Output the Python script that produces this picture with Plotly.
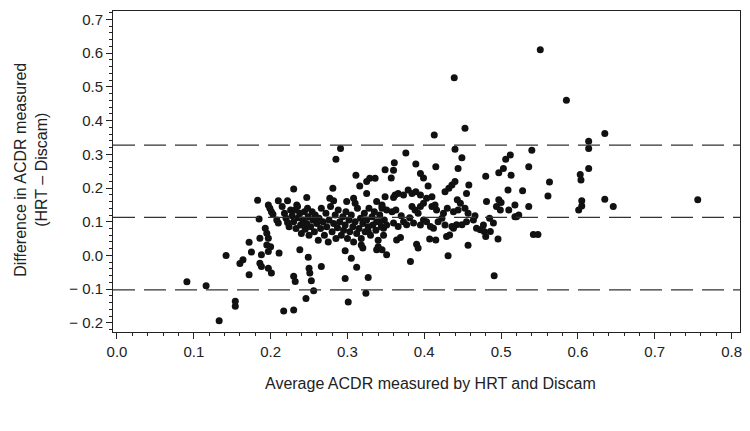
import plotly.graph_objects as go

# Average ACDR (x) and difference HRT - Discam (y)
avg_acdr = [
    0.091, 0.116, 0.133, 0.142, 0.154, 0.154, 0.160, 0.164, 0.172, 0.175, 0.172,
    0.183, 0.197, 0.199, 0.201, 0.203, 0.185, 0.210, 0.208, 0.210, 0.193, 0.195,
    0.186, 0.197, 0.195, 0.200, 0.197, 0.188, 0.186, 0.188, 0.197, 0.201, 0.211,
    0.222, 0.230, 0.247, 0.234, 0.277, 0.282, 0.281, 0.291, 0.285, 0.299, 0.308,
    0.310, 0.311, 0.316, 0.325, 0.329, 0.336, 0.325, 0.338, 0.349, 0.349, 0.345,
    0.238, 0.249, 0.250, 0.251, 0.266, 0.230, 0.232, 0.253, 0.256, 0.246, 0.217,
    0.230, 0.297, 0.301, 0.297, 0.305, 0.312, 0.327, 0.324, 0.318, 0.320, 0.327,
    0.338, 0.340, 0.351,
    0.215, 0.218, 0.220, 0.222, 0.224, 0.226, 0.228, 0.230, 0.232, 0.233, 0.235,
    0.236, 0.238, 0.239, 0.240, 0.242, 0.244, 0.245, 0.247, 0.248, 0.249, 0.250,
    0.252, 0.254, 0.255, 0.257, 0.258, 0.260, 0.262, 0.263, 0.265, 0.266, 0.268,
    0.270, 0.272, 0.273, 0.275, 0.276, 0.278, 0.280, 0.282, 0.284, 0.285, 0.287,
    0.288, 0.290, 0.292, 0.294, 0.295, 0.297, 0.298, 0.300, 0.302, 0.303, 0.305,
    0.307, 0.308, 0.310, 0.312, 0.313, 0.315, 0.317, 0.318, 0.320, 0.322, 0.323,
    0.325, 0.327, 0.328, 0.330, 0.332, 0.333, 0.335, 0.337, 0.338, 0.340, 0.342,
    0.344, 0.345, 0.347, 0.348,
    0.361, 0.360, 0.357, 0.376, 0.389, 0.395, 0.399, 0.413, 0.415, 0.439, 0.453,
    0.440, 0.449, 0.444, 0.458, 0.455, 0.440, 0.436, 0.432, 0.427, 0.405, 0.410,
    0.480, 0.497, 0.503, 0.506, 0.512, 0.513, 0.481, 0.497, 0.494, 0.499, 0.509,
    0.510, 0.518, 0.457, 0.431, 0.382, 0.491, 0.390, 0.392, 0.364, 0.369, 0.407,
    0.415, 0.429, 0.433, 0.496, 0.480, 0.478, 0.473, 0.468, 0.490, 0.486, 0.345,
    0.520, 0.438, 0.442, 0.449, 0.412, 0.418, 0.423, 0.373, 0.377, 0.386, 0.399,
    0.403, 0.345, 0.351, 0.358, 0.363, 0.360, 0.362, 0.366, 0.373, 0.379, 0.384,
    0.389, 0.395, 0.384, 0.388, 0.392, 0.438, 0.444, 0.453, 0.457, 0.443, 0.447,
    0.403, 0.410, 0.414, 0.416, 0.399, 0.395, 0.342, 0.347, 0.351, 0.360, 0.366,
    0.395, 0.408, 0.427, 0.436, 0.455, 0.464, 0.477, 0.370, 0.381, 0.425, 0.466,
    0.485, 0.430,
    0.551, 0.585, 0.635, 0.614, 0.614, 0.540, 0.536, 0.614, 0.603, 0.604, 0.563,
    0.528, 0.561, 0.500, 0.536, 0.518, 0.523, 0.605, 0.605, 0.601, 0.635, 0.646,
    0.756, 0.542, 0.548,
]
diff_acdr = [
    -0.078, -0.090, -0.194, 0.000, -0.136, -0.151, -0.024, -0.013, 0.039, 0.010, -0.057,
    0.164, 0.150, 0.140, 0.130, 0.122, 0.108, 0.162, 0.105, 0.096, 0.081, 0.066,
    0.051, 0.051, 0.031, 0.026, 0.012, 0.002, -0.023, -0.033, -0.038, -0.052, 0.007,
    0.162, 0.197, 0.172, 0.150, 0.170, 0.162, 0.199, 0.317, 0.285, 0.160, 0.170,
    0.155, 0.238, 0.206, 0.219, 0.229, 0.229, 0.184, 0.160, 0.254, 0.174, 0.150,
    0.017, -0.005, -0.038, -0.052, -0.033, -0.062, -0.077, -0.075, -0.105, -0.128, -0.165,
    -0.162, -0.068, -0.138, 0.014, -0.008, -0.035, -0.065, -0.112, 0.031, 0.022, 0.071,
    0.017, 0.026, 0.002,
    0.145, 0.125, 0.110, 0.098, 0.085, 0.135, 0.118, 0.100, 0.135, 0.080, 0.145,
    0.112, 0.125, 0.090, 0.065, 0.105, 0.130, 0.078, 0.095, 0.140, 0.115, 0.060,
    0.085, 0.130, 0.105, 0.070, 0.120, 0.095, 0.045, 0.110, 0.080, 0.140, 0.100,
    0.060, 0.125, 0.085, 0.040, 0.105, 0.145, 0.070, 0.095, 0.120, 0.050, 0.082,
    0.135, 0.100, 0.060, 0.115, 0.075, 0.090, 0.130, 0.050, 0.105, 0.070, 0.120,
    0.085, 0.040, 0.100, 0.065, 0.140, 0.080, 0.110, 0.050, 0.095, 0.125, 0.070,
    0.105, 0.085, 0.140, 0.060, 0.115, 0.090, 0.130, 0.075, 0.100, 0.045, 0.120,
    0.085, 0.145, 0.060, 0.105,
    0.275, 0.253, 0.230, 0.304, 0.271, 0.243, 0.230, 0.357, 0.263, 0.527, 0.377,
    0.315, 0.290, 0.258, 0.209, 0.184, 0.219, 0.209, 0.199, 0.189, 0.206, 0.174,
    0.235, 0.245, 0.258, 0.285, 0.298, 0.238, 0.160, 0.165, 0.145, 0.135, 0.194,
    0.135, 0.150, 0.030, -0.001, -0.018, -0.060, 0.033, 0.022, 0.046, 0.053, 0.049,
    0.046, 0.056, 0.061, 0.049, 0.056, 0.071, 0.076, 0.081, 0.096, 0.071, 0.017,
    0.115, 0.081, 0.091, 0.091, 0.081, 0.100, 0.110, 0.100, 0.091, 0.096, 0.105,
    0.100, 0.140, 0.135, 0.130, 0.135, 0.172, 0.179, 0.184, 0.179, 0.194, 0.184,
    0.189, 0.179, 0.145, 0.135, 0.125, 0.130, 0.135, 0.140, 0.125, 0.165, 0.155,
    0.170, 0.145, 0.150, 0.135, 0.155, 0.145, 0.100, 0.081, 0.090, 0.096, 0.086,
    0.090, 0.086, 0.090, 0.086, 0.100, 0.105, 0.090, 0.118, 0.112, 0.125, 0.118,
    0.110, 0.140,
    0.610, 0.460, 0.362, 0.339, 0.317, 0.312, 0.263, 0.258, 0.240, 0.224, 0.218,
    0.192, 0.176, 0.157, 0.145, 0.115, 0.120, 0.162, 0.147, 0.135, 0.167, 0.145,
    0.165, 0.062, 0.062,
]

# mean difference and limits of agreement (dashed lines)
mean_diff = 0.113
upper_limit = 0.327
lower_limit = -0.102

x_ticks = [0.0, 0.1, 0.2, 0.3, 0.4, 0.5, 0.6, 0.7, 0.8]
y_ticks = [-0.2, -0.1, 0.0, 0.1, 0.2, 0.3, 0.4, 0.5, 0.6, 0.7]
y_labels = ["\u2212 0.2", "\u2212 0.1", "0.0", "0.1", "0.2", "0.3", "0.4", "0.5", "0.6", "0.7"]

text_color = "#222222"
font_family = "Liberation Sans, Arial, sans-serif"

fig = go.Figure()

fig.add_trace(go.Scatter(x=avg_acdr, y=diff_acdr, mode="markers",
                         marker=dict(size=7, color="#111111"),
                         showlegend=False))

#Dashed reference lines
for level in [upper_limit, mean_diff, lower_limit]:
    fig.add_hline(y=level, line=dict(color="#333333", width=1.3, dash="22px,9px"))

fig.update_xaxes(range=[-0.0052, 0.811], tickvals=x_ticks, tickformat=".1f",
                 ticks="outside", ticklen=6, tickwidth=1, tickcolor=text_color,
                 minor=dict(dtick=0.02, ticks="outside", ticklen=3, tickcolor=text_color),
                 showline=True, linecolor=text_color, linewidth=1, mirror=True,
                 showgrid=False, zeroline=False, automargin=False)
fig.update_yaxes(range=[-0.227, 0.725], tickvals=y_ticks, ticktext=y_labels,
                 ticks="outside", ticklen=6, tickwidth=1, tickcolor=text_color,
                 minor=dict(dtick=0.02, ticks="outside", ticklen=3, tickcolor=text_color),
                 showline=True, linecolor=text_color, linewidth=1, mirror=True,
                 showgrid=False, zeroline=False, automargin=False)

#Axis titles as annotations so they sit where the original has them
fig.add_annotation(text="Difference in ACDR measured<br>(HRT \u2013 Discam)",
                   xref="paper", yref="paper", x=-0.131, y=0.505,
                   textangle=-90, showarrow=False, xanchor="center", yanchor="middle",
                   font=dict(size=16, color=text_color))
fig.add_annotation(text="Average ACDR measured by HRT and Discam",
                   xref="paper", yref="paper", x=0.507, y=-0.159,
                   showarrow=False, xanchor="center", yanchor="middle",
                   font=dict(size=16, color=text_color))

fig.update_layout(width=750, height=431,
                  margin=dict(l=113, r=10, t=11, b=99),
                  paper_bgcolor="white", plot_bgcolor="white",
                  font=dict(family=font_family, size=15, color=text_color))

# the page body has a default 8px margin, drop it so the figure sits at the window corner
fig.write_html("out.html", config={"displayModeBar": False},
               post_script="document.body.style.margin='0';")
